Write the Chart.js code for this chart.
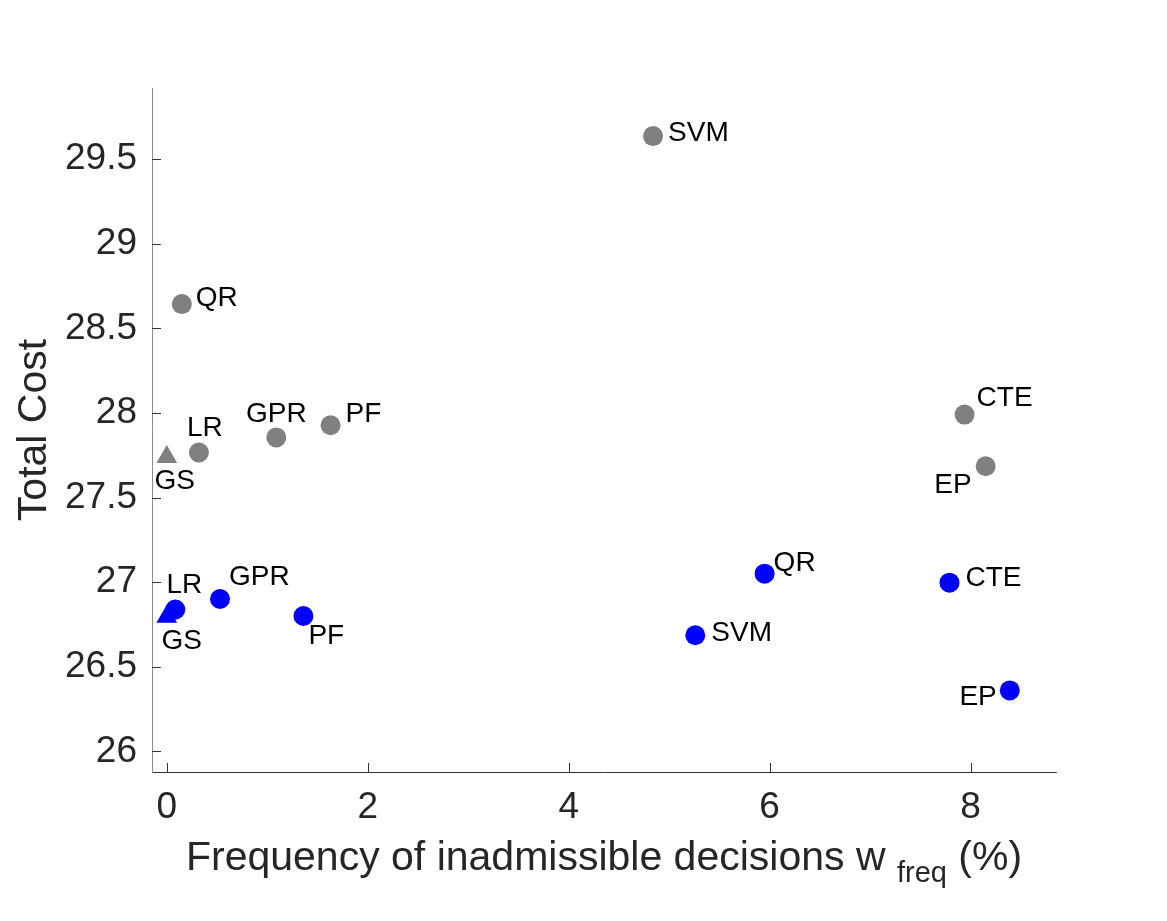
<!DOCTYPE html>
<html>
<head>
<meta charset="utf-8">
<script src="https://cdn.jsdelivr.net/npm/chart.js@4.4.0/dist/chart.umd.min.js"></script>
<style>
  html, body { margin: 0; padding: 0; background: #fff; }
  canvas { display: block; }
</style>
</head>
<body>
<canvas id="myChart" width="1167" height="921"></canvas>
<script>
// Métodos (GS = triángulo, resto = círculo)
const methods = ['GS', 'LR', 'GPR', 'PF', 'QR', 'SVM', 'CTE', 'EP'];

// Serie gris
const grayFreq = [0, 0.32, 1.09, 1.63, 0.15, 4.84, 7.94, 8.15];
const grayCost = [27.74, 27.766, 27.855, 27.927, 28.643, 29.636, 27.99, 27.685];

// Serie azul
const blueFreq = [0, 0.085, 0.53, 1.36, 5.95, 5.26, 7.79, 8.39];
const blueCost = [26.795, 26.838, 26.90, 26.80, 27.05, 26.686, 26.997, 26.36];

// Ticks de los ejes
const xTicks = [0, 2, 4, 6, 8];
const yTicks = [26, 26.5, 27, 27.5, 28, 28.5, 29, 29.5];
const yTickLabels = ['26', '26.5', '27', '27.5', '28', '28.5', '29', '29.5'];

// Posición de las etiquetas respecto al punto: [dx, dy, alineación]
const grayLabelPos = [[8, 24, 'center'], [6, -24, 'center'], [0, -23, 'center'], [15, -11, 'left'],
                      [14, -6, 'left'], [15, -3, 'left'], [12, -16, 'left'], [-14, 19, 'right']];
const blueLabelPos = [[15, 24, 'center'], [9, -24, 'center'], [9, -22, 'left'], [5, 20, 'left'],
                      [9, -10, 'left'], [16, -2, 'left'], [16, -4, 'left'], [-13, 7, 'right']];

const FONT = "'Liberation Sans', Arial, Helvetica, sans-serif";
const TEXT_COLOR = '#262626';

function toPoints(xs, ys) {
    return xs.map((x, i) => ({ x: x, y: ys[i] }));
}

// Etiquetas de texto junto a cada punto
const pointLabels = {
    id: 'pointLabels',
    afterDatasetsDraw(chart) {
        const ctx = chart.ctx;
        const positions = [grayLabelPos, blueLabelPos];
        ctx.save();
        ctx.font = '28px ' + FONT;
        ctx.fillStyle = '#000';
        ctx.textBaseline = 'middle';
        chart.data.datasets.forEach((ds, di) => {
            const meta = chart.getDatasetMeta(di);
            meta.data.forEach((pt, i) => {
                const p = positions[di][i];
                ctx.textAlign = p[2];
                ctx.fillText(methods[i], pt.x + p[0], pt.y + p[1]);
            });
        });
        ctx.restore();
    }
};

// Ticks hacia dentro (estilo MATLAB) y título del eje x con subíndice
const axisExtras = {
    id: 'axisExtras',
    afterDraw(chart) {
        const ctx = chart.ctx;
        const area = chart.chartArea;
        const xs = chart.scales.x, ys = chart.scales.y;
        ctx.save();
        ctx.strokeStyle = '#333';
        ctx.lineWidth = 1;
        ctx.beginPath();
        xTicks.forEach(v => {
            const px = Math.round(xs.getPixelForValue(v)) + 0.5;
            ctx.moveTo(px, area.bottom);
            ctx.lineTo(px, area.bottom - 9);
        });
        yTicks.forEach(v => {
            const py = Math.round(ys.getPixelForValue(v)) + 0.5;
            ctx.moveTo(area.left, py);
            ctx.lineTo(area.left + 9, py);
        });
        ctx.stroke();

        const main = 'Frequency of inadmissible decisions w ';
        const sub = 'freq';
        const tail = ' (%)';
        ctx.fillStyle = TEXT_COLOR;
        ctx.textBaseline = 'alphabetic';
        ctx.textAlign = 'left';
        ctx.font = '41px ' + FONT;
        const wMain = ctx.measureText(main).width;
        const wTail = ctx.measureText(tail).width;
        ctx.font = '29px ' + FONT;
        const wSub = ctx.measureText(sub).width;
        const cx = (area.left + area.right) / 2;
        let x = cx - (wMain + wSub + wTail) / 2;
        const base = 870;
        ctx.font = '41px ' + FONT;
        ctx.fillText(main, x, base);
        x += wMain;
        ctx.font = '29px ' + FONT;
        ctx.fillText(sub, x, base + 12);
        x += wSub;
        ctx.font = '41px ' + FONT;
        ctx.fillText(tail, x, base);
        ctx.restore();
    }
};

const ctx1 = document.getElementById('myChart').getContext('2d');

new Chart(ctx1, {
    type: 'scatter',
    data: {
        datasets: [{
            label: 'gray',
            data: toPoints(grayFreq, grayCost),
            backgroundColor: '#808080',
            borderColor: '#808080',
            borderWidth: 0,
            pointStyle: methods.map(m => m === 'GS' ? 'triangle' : 'circle'),
            pointRadius: methods.map(m => m === 'GS' ? 12 : 10)
        }, {
            label: 'blue',
            data: toPoints(blueFreq, blueCost),
            backgroundColor: '#0000ff',
            borderColor: '#0000ff',
            borderWidth: 0,
            pointStyle: methods.map(m => m === 'GS' ? 'triangle' : 'circle'),
            pointRadius: methods.map(m => m === 'GS' ? 12 : 10)
        }]
    },
    options: {
        responsive: false,
        animation: false,
        events: [],
        layout: { padding: { top: 88, right: 111, left: 0, bottom: 0 } },
        plugins: {
            legend: { display: false },
            tooltip: { enabled: false }
        },
        scales: {
            x: {
                type: 'linear',
                min: -0.147,
                max: 8.85,
                afterFit(scale) { scale.height = 149; },
                afterBuildTicks(scale) { scale.ticks = xTicks.map(v => ({ value: v })); },
                grid: { display: false, drawTicks: false },
                border: { display: true, color: '#333', width: 1 },
                ticks: {
                    padding: 14,
                    color: TEXT_COLOR,
                    font: { family: FONT, size: 37 },
                    callback: v => String(v)
                }
            },
            y: {
                type: 'linear',
                min: 25.878,
                max: 29.92,
                afterFit(scale) { scale.width = 152; },
                afterBuildTicks(scale) { scale.ticks = yTicks.map(v => ({ value: v })); },
                grid: { display: false, drawTicks: false },
                border: { display: true, color: '#8c8c8c', width: 1 },
                ticks: {
                    padding: 15,
                    color: TEXT_COLOR,
                    font: { family: FONT, size: 37 },
                    callback: (v) => yTickLabels[yTicks.indexOf(v)]
                },
                title: {
                    display: true,
                    text: 'Total Cost',
                    color: TEXT_COLOR,
                    font: { family: FONT, size: 41 },
                    padding: { top: 10, bottom: 10 }
                }
            }
        }
    },
    plugins: [pointLabels, axisExtras]
});
</script>
</body>
</html>
